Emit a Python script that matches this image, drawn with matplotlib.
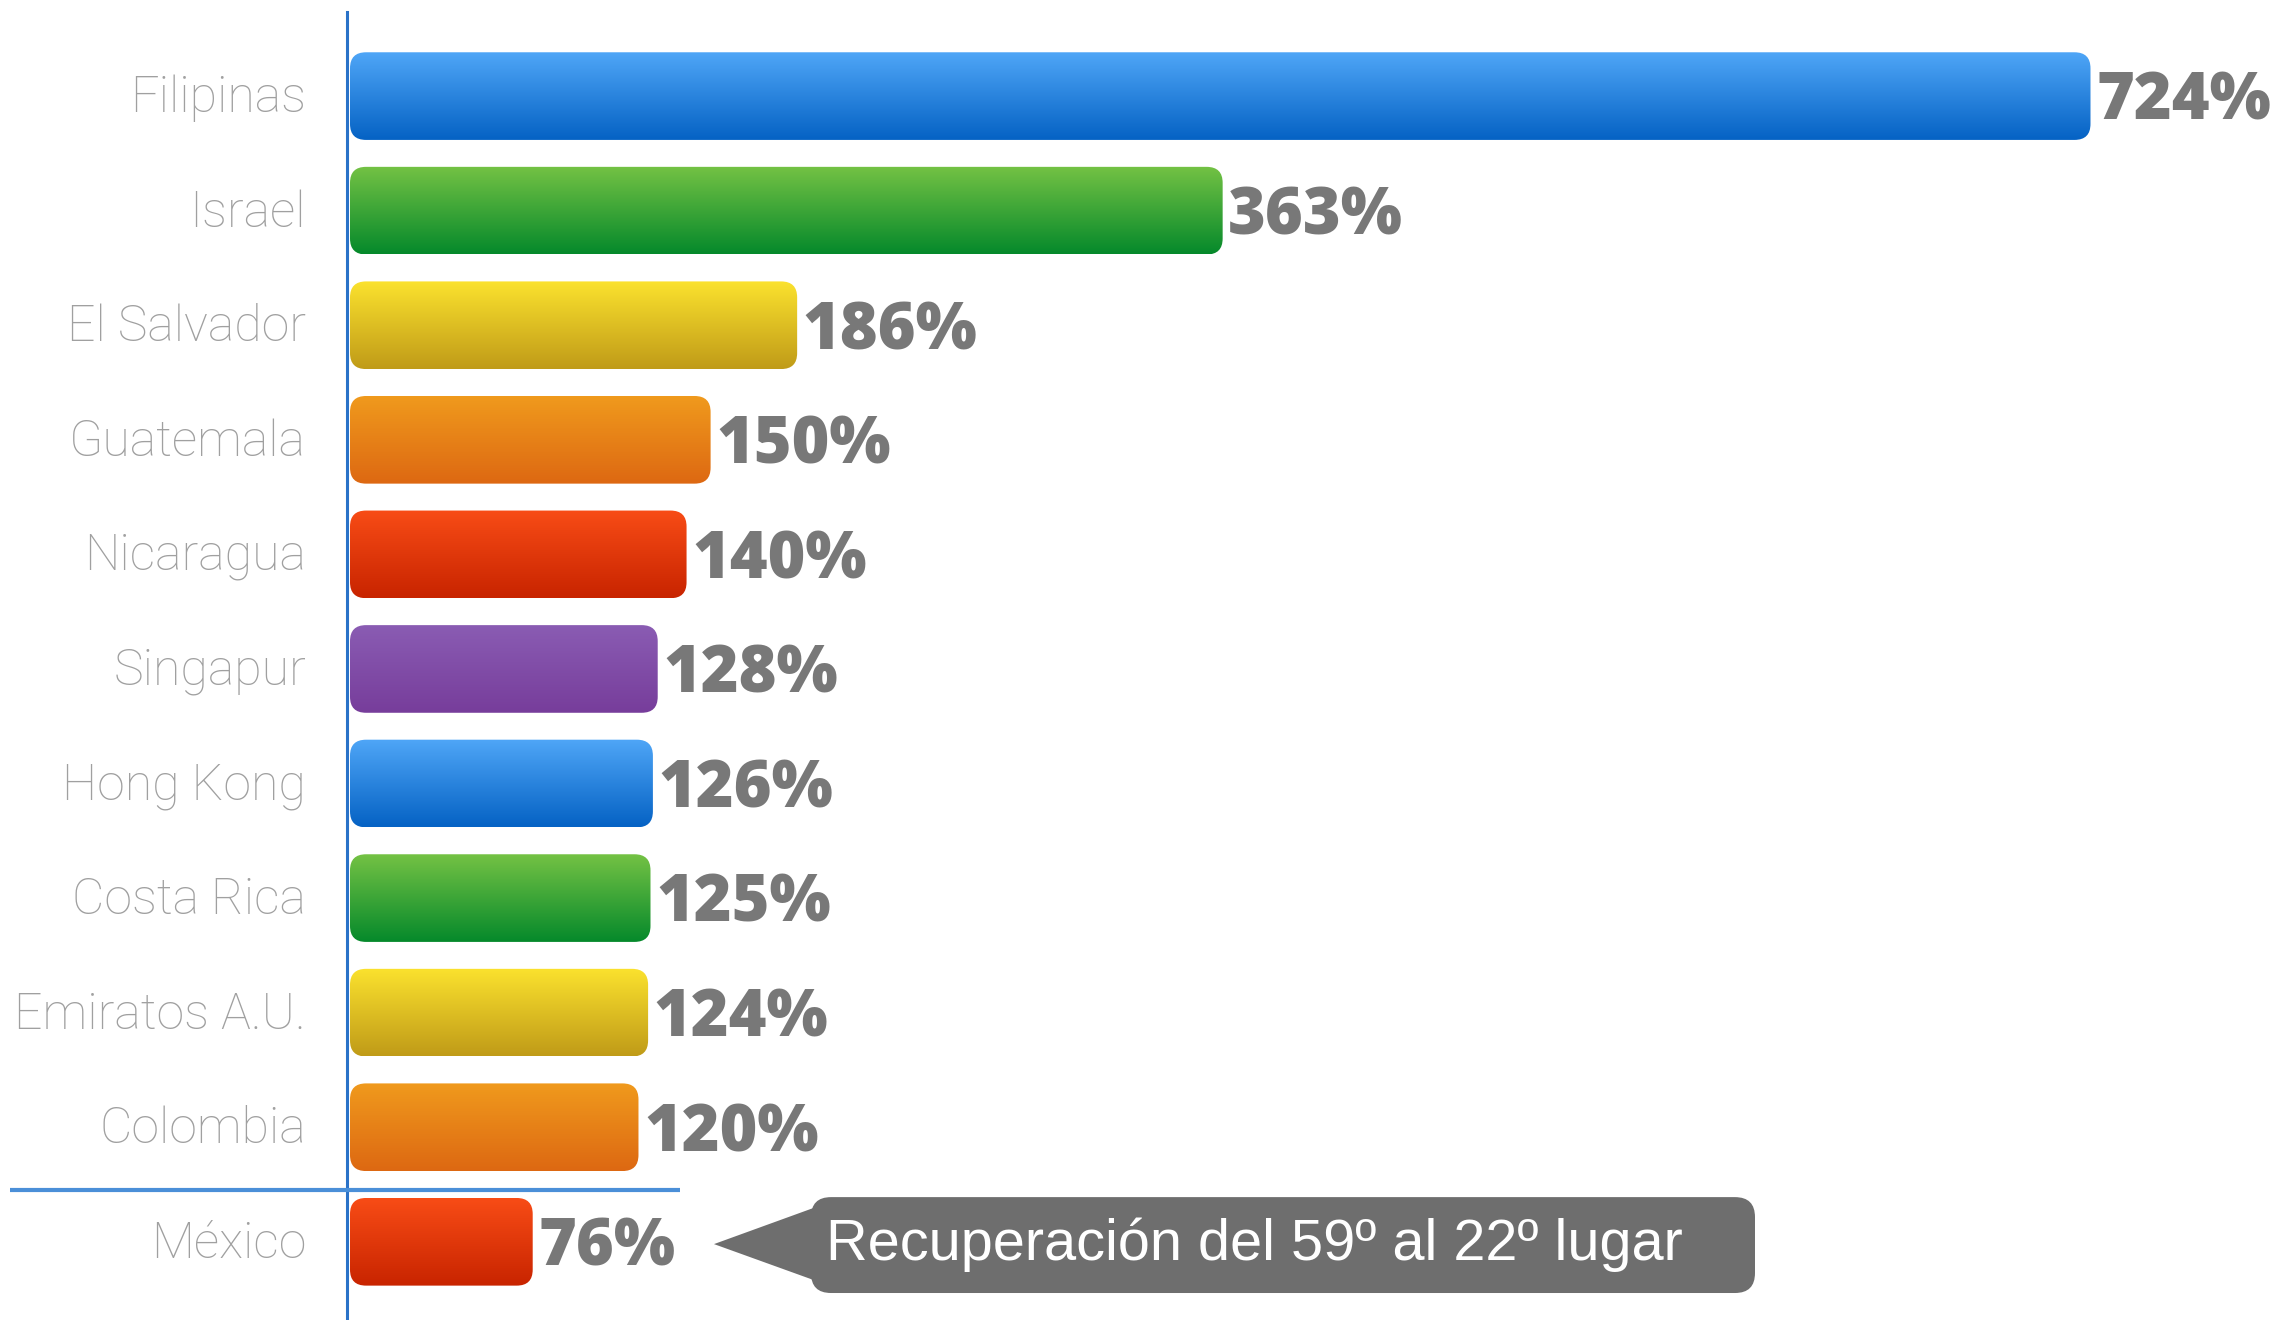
import numpy as np
import matplotlib
matplotlib.use("Agg")
import matplotlib.pyplot as plt
from matplotlib.patches import FancyBboxPatch, Polygon
from matplotlib.colors import LinearSegmentedColormap

# ---- data ----
countries = ["Filipinas", "Israel", "El Salvador", "Guatemala", "Nicaragua",
             "Singapur", "Hong Kong", "Costa Rica", "Emiratos A.U.", "Colombia",
             "México"]
values = [724, 363, 186, 150, 140, 128, 126, 125, 124, 120, 76]
value_labels = ["724%", "363%", "186%", "150%", "140%", "128%", "126%",
                "125%", "124%", "120%", "76%"]
callout_text = "Recuperación del 59º al 22º lugar"

# gradient (top, bottom) per bar
top_colors = ["#4fa6f7", "#74c244", "#fbe22e", "#f09a1d", "#f84c16", "#8a5cb3",
              "#4fa6f7", "#74c244", "#fbe22e", "#f09a1d", "#f84c16"]
bot_colors = ["#0562c4", "#05892b", "#c09b18", "#dd6812", "#c82400", "#773d9b",
              "#0562c4", "#05892b", "#c09b18", "#dd6812", "#c82400"]

W, H = 2284, 1320
fig = plt.figure(figsize=(W / 100, H / 100), dpi=100)
ax = fig.add_axes([0, 0, 1, 1])

x0_px = 350.0          # pixel of value 0
px_per_unit = 2.404    # horizontal scale
row0_px = 96.1         # centre of first row
row_px = 114.57        # row spacing
ax.set_xlim(-x0_px / px_per_unit, (W - x0_px) / px_per_unit)
ax.set_ylim((H - row0_px) / row_px, -row0_px / row_px)
ax.axis("off")

ypos = np.arange(len(countries))
bar_h = 0.765
bars = ax.barh(ypos, values, height=bar_h, color="none", edgecolor="none")

# rounding in pixels -> data units
r_px = 16
rx = r_px / px_per_unit
ry = r_px / row_px
aspect = ry / rx

for i, rect in enumerate(bars):
    x, y = rect.get_x(), rect.get_y()
    w, h = rect.get_width(), rect.get_height()
    patch = FancyBboxPatch((x, y), w, h,
                           boxstyle=f"round,pad=0,rounding_size={rx}",
                           mutation_aspect=aspect,
                           facecolor="none", edgecolor="none", zorder=2)
    ax.add_patch(patch)
    cmap = LinearSegmentedColormap.from_list(f"g{i}", [top_colors[i], bot_colors[i]])
    grad = np.linspace(0, 1, 256).reshape(-1, 1)
    im = ax.imshow(grad, cmap=cmap, aspect="auto",
                   extent=(x, x + w, y + h, y), zorder=2,
                   interpolation="bilinear")
    im.set_clip_path(patch)
    # value label
    ax.text(x + w + 2.3, i + 0.06, value_labels[i], ha="left", va="center",
            fontsize=46.5, fontweight=800, color="#787878",
            family=["Open Sans", "DejaVu Sans"], zorder=3)
    # category label
    ax.text(-18.3, i + 0.02, countries[i], ha="right", va="center",
            fontsize=36, fontweight=100, color="#a0a0a0",
            family=["Roboto", "DejaVu Sans"], zorder=3)

ax.set_xlim(-x0_px / px_per_unit, (W - x0_px) / px_per_unit)
ax.set_ylim((H - row0_px) / row_px, -row0_px / row_px)

# vertical axis line
ax.axvline(-1.2, ymin=0, ymax=1 - 12 / H, color="#2a72c8", lw=2.2, zorder=4)
# separator line between Colombia and México
ax.plot([(10 - x0_px) / px_per_unit, (680 - x0_px) / px_per_unit],
        [9.55, 9.55], color="#4a8fd8", lw=3, solid_capstyle="butt", zorder=4)

# callout
mex = len(countries) - 1
bx0, bx1 = (811 - x0_px) / px_per_unit, (1755 - x0_px) / px_per_unit
by0, by1 = mex - 0.39, mex + 0.447
cr = 20
callout = FancyBboxPatch((bx0, by0), bx1 - bx0, by1 - by0,
                         boxstyle=f"round,pad=0,rounding_size={cr / px_per_unit}",
                         mutation_aspect=(cr / row_px) / (cr / px_per_unit),
                         facecolor="#6e6e6e", edgecolor="none", zorder=3)
ax.add_patch(callout)
tip_x = (714 - x0_px) / px_per_unit
arrow = Polygon([[tip_x, mex + 0.02], [bx0 + 1, mex - 0.295], [bx0 + 1, mex + 0.333]],
                closed=True, facecolor="#6e6e6e", edgecolor="none", zorder=3)
ax.add_patch(arrow)
ax.text((826 - x0_px) / px_per_unit, mex + 0.03, callout_text, ha="left", va="center",
        fontsize=41.5, color="white", family=["Liberation Sans", "DejaVu Sans"], zorder=5)

fig.savefig("out.png", dpi=100, facecolor="white")
